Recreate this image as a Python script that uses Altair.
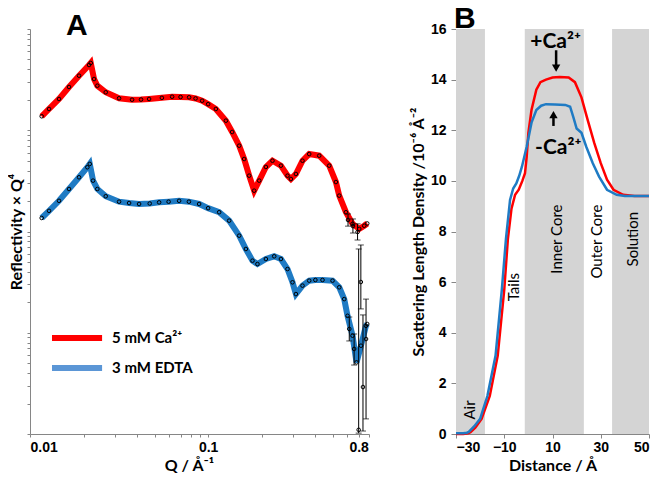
import altair as alt
import pandas as pd

# ---------------- Panel A: reflectivity x Q^4 ----------------
RED_Q = [0.01163, 0.01279, 0.01455, 0.01656, 0.01885, 0.02145, 0.02193, 0.02289,
         0.02388, 0.02662, 0.03162, 0.03741, 0.0420, 0.04661, 0.0550, 0.06278,
         0.0700, 0.07820, 0.0850, 0.09253, 0.1000, 0.1105, 0.1258, 0.1364,
         0.1494, 0.1593, 0.1700, 0.1813, 0.1935, 0.2110, 0.2297, 0.2562,
         0.2790, 0.2915, 0.3110, 0.3387, 0.3693, 0.4203, 0.4783, 0.5216,
         0.5445, 0.5937, 0.6467, 0.7052, 0.7523, 0.7820]
RED_R = [1.374e-7, 1.622e-7, 2.036e-7, 2.675e-7, 3.459e-7, 4.408e-7, 4.615e-7, 3.207e-7,
         2.754e-7, 2.371e-7, 2.068e-7, 2.002e-7, 2.01e-7, 2.036e-7, 2.09e-7, 2.144e-7,
         2.13e-7, 2.115e-7, 2.06e-7, 1.957e-7, 1.81e-7, 1.622e-7, 1.243e-7, 9.61e-8,
         7.04e-8, 5.20e-8, 3.56e-8, 2.53e-8, 3.18e-8, 4.34e-8, 5.00e-8, 4.47e-8,
         3.56e-8, 3.30e-8, 3.70e-8, 5.00e-8, 5.82e-8, 5.61e-8, 4.47e-8, 3.08e-8,
         2.26e-8, 1.55e-8, 1.19e-8, 1.06e-8, 1.14e-8, 1.20e-8]

BLUE_Q = [0.01163, 0.01279, 0.01455, 0.01656, 0.01885, 0.02099, 0.02165, 0.02259,
          0.02388, 0.02662, 0.03162, 0.0360, 0.04096, 0.0470, 0.05306, 0.0600,
          0.06872, 0.0780, 0.08900, 0.1000, 0.1153, 0.1312, 0.1494, 0.1629,
          0.1774, 0.1892, 0.2110, 0.2349, 0.2562, 0.2790, 0.2976, 0.3110,
          0.3387, 0.3693, 0.4000, 0.4386, 0.4992, 0.5445, 0.5808, 0.6062,
          0.6467, 0.6808, 0.7210, 0.7691, 0.7820]
BLUE_R = [1.36e-8, 1.60e-8, 2.01e-8, 2.63e-8, 3.43e-8, 4.31e-8, 4.65e-8, 3.18e-8,
          2.63e-8, 2.23e-8, 1.97e-8, 1.91e-8, 1.87e-8, 1.89e-8, 1.94e-8, 1.97e-8,
          2.01e-8, 1.97e-8, 1.87e-8, 1.70e-8, 1.55e-8, 1.28e-8, 9.10e-9, 6.72e-9,
          5.15e-9, 4.77e-9, 5.35e-9, 5.69e-9, 5.35e-9, 4.26e-9, 3.15e-9, 2.41e-9,
          2.92e-9, 3.27e-9, 3.32e-9, 3.32e-9, 3.27e-9, 2.81e-9, 2.15e-9, 1.47e-9,
          9.35e-10, 5.10e-10, 7.45e-10, 1.17e-9, 1.22e-9]

ERR_Q = [0.61, 0.65, 0.69, 0.72, 0.62, 0.66, 0.70, 0.74, 0.77]
ERR_R = [1.30e-8, 1.13e-8, 9.89e-9, 3.17e-9, 1.09e-9, 6.92e-10, 1.10e-10, 2.91e-10, 8.67e-10]
ERR_LO = [1.13e-8, 9.66e-9, 8.24e-9, 1.72e-9, 8.30e-10, 4.80e-10, 1.02e-10, 1.07e-10, 1.41e-10]
ERR_HI = [1.49e-8, 1.33e-8, 1.19e-8, 7.36e-9, 1.43e-9, 9.72e-10, 6.72e-9, 1.50e-9, 2.15e-9]

LEG_LABELS = ["5 mM Ca²⁺", "3 mM EDTA"]
LEG_COLORS = ["#ff0000", "#5b96d6"]
LEG_Y = [8.87e-10, 4.49e-10]
LEG_X1 = [0.01329, 0.01329]
LEG_X2 = [0.02539, 0.02539]
LEG_XT = [0.0289, 0.0289]

X_TICKS_A = [0.01, 0.02, 0.03, 0.04, 0.05, 0.06, 0.07, 0.08, 0.09,
             0.1, 0.2, 0.3, 0.4, 0.5, 0.6, 0.7, 0.8]
Y_TICKS_A = [m * 10.0 ** e for e in range(-10, -6) for m in range(1, 10)] + [1e-6]

# ---------------- Panel B: SLD profiles ----------------
RED_D = [-30, -27, -25, -24, -22, -19.4, -16, -12.7, -10, -8.5, -7, -5.5, -4, -2.5,
         -1.4, -0.7, 0, 1.3, 3.3, 5, 7.3, 10, 13, 16.7, 19.3, 22, 24.6, 27.3, 30,
         32.6, 35.3, 39.3, 44, 50]
RED_S = [0, 0, 0.03, 0.07, 0.25, 0.6, 1.5, 3.1, 5.7, 7.7, 8.9, 9.45, 9.65, 10.0,
         10.3, 10.95, 11.9, 12.8, 13.6, 13.9, 14.0, 14.08, 14.1, 14.08, 13.9, 13.3,
         12.4, 11.5, 10.7, 10.05, 9.65, 9.45, 9.4, 9.4]
BLUE_D = [-30, -27, -25.5, -24.7, -22.5, -20, -17, -13.6, -11, -9.3, -7.6, -6.3, -5,
          -3.8, -2.7, -0.7, 1.3, 3.3, 5.3, 7.3, 11, 15.3, 17.3, 18.7, 20, 22, 24,
          26.7, 29.3, 32.6, 36.6, 40, 50]
BLUE_S = [0.03, 0.03, 0.05, 0.08, 0.3, 0.6, 1.5, 3.1, 5.7, 7.7, 9.25, 9.7, 9.9,
          10.2, 10.55, 11.35, 12.3, 12.8, 12.97, 13.03, 13.02, 13.0, 12.93, 12.5,
          12.07, 11.9, 11.35, 10.7, 10.17, 9.65, 9.45, 9.4, 9.4]

BAND_X1 = [-30, -1.5, 34.7]
BAND_X2 = [-18, 23, 50]
BAND_Y1 = [0, 0, 0]
BAND_Y2 = [16, 16, 16]
REGION_LABELS = ["Air", "Tails", "Inner Core", "Outer Core", "Solution"]
REGION_X = [-24.2, -6.1, 11.7, 28.5, 43.3]
REGION_Y = [0.95, 5.8, 7.7, 7.6, 7.7]

ANN_LABELS = ["+Ca²⁺", "-Ca²⁺"]
ANN_X = [11.3, 12.4]
ANN_Y = [15.5, 11.3]
ARROW_X = [11.5, 10.4]
ARROW_TAIL = [15.16, 12.17]
ARROW_HEAD = [14.45, 12.62]
ARROW_SHAPE = ["triangle-down", "triangle-up"]

RED_A, BLUE_A = "#ff0000", "#1f7bc4"
RED_B, BLUE_B = "#e8262b", "#2f78b8"
GRAY = "#d4d4d4"
LFONT = "Liberation Sans"
TFONT = "Lato"

# ---------- build panel A ----------
df_a = pd.concat([
    pd.DataFrame({"q": RED_Q, "r": RED_R, "series": "Ca"}),
    pd.DataFrame({"q": BLUE_Q, "r": BLUE_R, "series": "EDTA"}),
])
df_err = pd.DataFrame({"q": ERR_Q, "r": ERR_R, "lo": ERR_LO, "hi": ERR_HI})
df_leg = pd.DataFrame({"label": LEG_LABELS, "color": LEG_COLORS, "y": LEG_Y,
                       "x1": LEG_X1, "x2": LEG_X2, "xt": LEG_XT})

XS_A = alt.Scale(type="log", domain=[0.01, 0.8], nice=False)
YS_A = alt.Scale(type="log", domain=[1e-10, 1e-6], nice=False)

# the original figure prints its last label "0.8" under the 0.7 tick
XA = alt.Axis(
    values=X_TICKS_A,
    labelExpr="abs(datum.value-0.01)<1e-6 ? '0.01' : (abs(datum.value-0.1)<1e-6 ? '0.1' : (abs(datum.value-0.7)<1e-6 ? '0.8' : ''))",
    title="Q / Å⁻¹", tickSize=3, labelPadding=3, titlePadding=3,
    labelOverlap=False, titleX=159,
)
YA = alt.Axis(values=Y_TICKS_A, labels=False, title="Reflectivity × Q⁴",
              tickSize=3, titlePadding=2)


def xa(field):
    return alt.X(field, scale=XS_A, axis=XA)


def ya(field):
    return alt.Y(field, scale=YS_A, axis=YA)


col_a = alt.Color("series:N", scale=alt.Scale(domain=["Ca", "EDTA"], range=[RED_A, BLUE_A]), legend=None)

lines_a = alt.Chart(df_a).mark_line(strokeWidth=6).encode(x=xa("q:Q"), y=ya("r:Q"), color=col_a)
pts_a = alt.Chart(df_a).mark_point(shape="circle", filled=False, color="black",
                                   size=13, strokeWidth=1, opacity=1).encode(x=xa("q:Q"), y=ya("r:Q"))
err_rule = alt.Chart(df_err).mark_rule(color="black", strokeWidth=1, clip=True).encode(
    x=xa("q:Q"), y=ya("lo:Q"), y2="hi:Q")
err_lo = alt.Chart(df_err).mark_tick(orient="horizontal", size=6, thickness=1, color="black", clip=True).encode(
    x=xa("q:Q"), y=ya("lo:Q"))
err_hi = alt.Chart(df_err).mark_tick(orient="horizontal", size=6, thickness=1, color="black", clip=True).encode(
    x=xa("q:Q"), y=ya("hi:Q"))
err_pt = alt.Chart(df_err).mark_point(shape="circle", filled=False, color="black", size=13,
                                      strokeWidth=1, opacity=1, clip=True).encode(x=xa("q:Q"), y=ya("r:Q"))
leg_rule = alt.Chart(df_leg).mark_rule(strokeWidth=6).encode(
    x=xa("x1:Q"), x2="x2:Q", y=ya("y:Q"), color=alt.Color("color:N", scale=None))
leg_text = alt.Chart(df_leg).mark_text(align="left", baseline="middle", font=TFONT,
                                       fontWeight="bold", fontSize=15, color="black").encode(
    x=xa("xt:Q"), y=ya("y:Q"), text="label:N")

panel_a = alt.layer(lines_a, pts_a, err_rule, err_lo, err_hi, err_pt, leg_rule, leg_text).properties(
    width=339, height=405,
    title=alt.TitleParams("A", font=LFONT, fontSize=30, fontWeight="bold", anchor="start",
                          frame="group", dx=36, offset=-12, color="black"),
)

# ---------- build panel B ----------
df_b = pd.concat([
    pd.DataFrame({"d": RED_D, "s": RED_S, "series": "Ca"}),
    pd.DataFrame({"d": BLUE_D, "s": BLUE_S, "series": "EDTA"}),
])
df_band = pd.DataFrame({"x1": BAND_X1, "x2": BAND_X2, "y1": BAND_Y1, "y2": BAND_Y2})
df_reg = pd.DataFrame({"label": REGION_LABELS, "x": REGION_X, "y": REGION_Y})
df_ann = pd.DataFrame({"label": ANN_LABELS, "x": ANN_X, "y": ANN_Y})
df_arr = pd.DataFrame({"x": ARROW_X, "tail": ARROW_TAIL, "head": ARROW_HEAD, "shape": ARROW_SHAPE})

XS_B = alt.Scale(domain=[-30, 50], nice=False)
YS_B = alt.Scale(domain=[0, 16], nice=False)
XB = alt.Axis(values=[-30, -10, 10, 30, 50], title="Distance / Å",
              tickSize=4, labelPadding=2, titlePadding=3)
YB = alt.Axis(values=[0, 2, 4, 6, 8, 10, 12, 14, 16],
              title="Scattering Length Density /10⁻⁶ Å⁻²",
              tickSize=5, labelPadding=5, titlePadding=4)


def xb(field):
    return alt.X(field, scale=XS_B, axis=XB)


def yb(field):
    return alt.Y(field, scale=YS_B, axis=YB)


bands = alt.Chart(df_band).mark_rect(color=GRAY).encode(
    x=xb("x1:Q"), x2="x2:Q", y=yb("y1:Q"), y2="y2:Q")
col_b = alt.Color("series:N", scale=alt.Scale(domain=["Ca", "EDTA"], range=[RED_B, BLUE_B]), legend=None)
lines_b = alt.Chart(df_b).mark_line(strokeWidth=2.5).encode(
    x=xb("d:Q"), y=yb("s:Q"), color=col_b, order="d:Q")
reg_text = alt.Chart(df_reg).mark_text(angle=270, font=TFONT, fontSize=15, color="black",
                                       align="center", baseline="middle").encode(
    x=xb("x:Q"), y=yb("y:Q"), text="label:N")
ann_text = alt.Chart(df_ann).mark_text(font=TFONT, fontSize=21, fontWeight="bold", color="black",
                                       align="center", baseline="middle").encode(
    x=xb("x:Q"), y=yb("y:Q"), text="label:N")
arr_rule = alt.Chart(df_arr).mark_rule(color="black", strokeWidth=2.5).encode(
    x=xb("x:Q"), y=yb("tail:Q"), y2="head:Q")
arr_head = alt.Chart(df_arr).mark_point(filled=True, color="black", size=70, opacity=1).encode(
    x=xb("x:Q"), y=yb("head:Q"), shape=alt.Shape("shape:N", scale=None))

panel_b = alt.layer(bands, lines_b, reg_text, ann_text, arr_rule, arr_head).properties(
    width=193, height=405,
    title=alt.TitleParams("B", font=LFONT, fontSize=30, fontWeight="bold", anchor="start",
                          frame="group", dx=-2, offset=-12, color="black"),
)

chart = alt.hconcat(panel_a, panel_b, spacing=30).configure_view(stroke=None).configure_axis(
    grid=False, domainColor="#868686", tickColor="#868686",
    labelFont=LFONT, labelFontWeight="bold", labelFontSize=14, labelColor="black",
    titleFont=TFONT, titleFontWeight="bold", titleFontSize=16, titleColor="black",
).properties(padding={"top": -4, "left": 0, "right": 0, "bottom": 0})

chart.save("out.html", embed_options={"renderer": "svg", "actions": False})
